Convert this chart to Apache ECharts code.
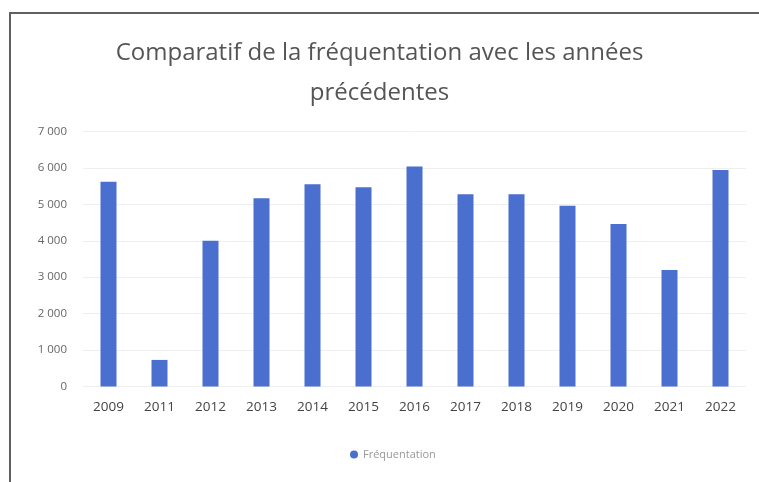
<!DOCTYPE html>
<html>
<head>
<meta charset="utf-8">
<script src="https://cdn.jsdelivr.net/npm/echarts@6/dist/echarts.min.js"></script>
<style>
  html, body { margin: 0; padding: 0; background: #fff; }
  #chart { width: 759px; height: 482px; }
</style>
</head>
<body>
<div id="chart"></div>
<script>
// données
const years = ['2009', '2011', '2012', '2013', '2014', '2015', '2016', '2017', '2018', '2019', '2020', '2021', '2022']
const frequentation = [5620, 730, 4000, 5170, 5550, 5470, 6040, 5280, 5280, 4960, 4460, 3200, 5940]
const yTicks = [0, 1000, 2000, 3000, 4000, 5000, 6000, 7000]

const myChart = echarts.init(document.getElementById('chart'))
myChart.setOption({
  animation: false,
  textStyle: { fontFamily: 'Open Sans' },
  title: {
    text: 'Comparatif de la fréquentation avec les années\nprécédentes',
    left: 'center',
    top: 28,
    textStyle: {
      fontFamily: 'Open Sans',
      fontSize: 24,
      fontWeight: 'normal',
      color: '#555',
      lineHeight: 40
    }
  },
  // cadre du document (seuls haut et gauche visibles)
  graphic: [{
    type: 'rect',
    shape: { x: 10, y: 13, width: 800, height: 520 },
    style: { fill: 'none', stroke: '#606060', lineWidth: 2 },
    silent: true
  }],
  legend: {
    data: ['Fréquentation'],
    bottom: 17,
    left: 390 - 45,
    icon: 'circle',
    itemWidth: 8,
    itemHeight: 8,
    textStyle: { color: '#999', fontSize: 11 }
  },
  grid: {
    top: 131.5,
    left: 83,
    right: 13,
    bottom: 95.5
  },
  xAxis: {
    type: 'category',
    data: years,
    axisTick: { show: false },
    axisLine: { show: false },
    axisLabel: { color: '#444', fontSize: 13.5, margin: 14 }
  },
  yAxis: {
    type: 'value',
    min: yTicks[0],
    max: yTicks[yTicks.length - 1],
    interval: 1000,
    axisLine: { show: false },
    axisTick: { show: false },
    splitLine: { lineStyle: { color: '#efefef' } },
    axisLabel: {
      color: '#666',
      fontSize: 11.5,
      margin: 16,
      formatter: v => v >= 1000 ? Math.floor(v / 1000) + ' ' + String(v % 1000).padStart(3, '0') : String(v)
    }
  },
  series: [{
    name: 'Fréquentation',
    type: 'bar',
    data: frequentation,
    barWidth: 16,
    itemStyle: { color: '#4a6fcf' }
  }]
})
</script>
</body>
</html>
